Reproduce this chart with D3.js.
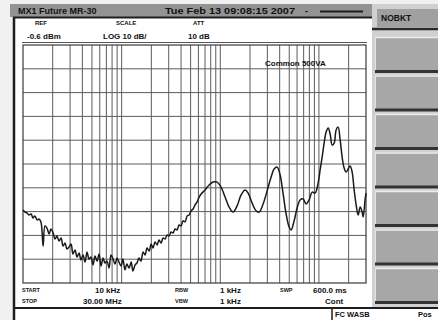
<!DOCTYPE html>
<html>
<head>
<meta charset="utf-8">
<script src="https://cdn.jsdelivr.net/npm/d3@7"></script>
<style>
  html, body { margin: 0; padding: 0; background: #f1f1f1; }
  svg { display: block; }
  text { font-family: "Liberation Sans", Arial, sans-serif; font-weight: bold; fill: #111; }
</style>
</head>
<body>
<svg id="chart" width="438" height="320"></svg>
<script>
// Sweep settings (frequency axis: 10 kHz .. 30 MHz, log; level axis: ref -0.6 dBm, 10 dB/div)
const freqStartHz = 10e3;
const freqStopHz = 30e6;
const refLevelDbm = -0.6;
const dbPerDiv = 10;
const levelDivisions = 10;

// Measured trace: frequency in kHz
const traceFreqKHz = [
  10.0, 10.5, 11.0, 11.5, 12.1, 12.6, 13.2, 13.9, 14.5, 15.2,
  16.0, 16.7, 17.5, 18.4, 19.2, 20.2, 21.1, 22.1, 23.2, 24.3,
  25.5, 26.7, 27.9, 29.3, 30.7, 32.1, 33.7, 35.3, 37.0, 38.7,
  40.6, 42.5, 44.6, 46.7, 48.9, 51.3, 53.7, 56.3, 59.0, 61.8,
  64.8, 67.8, 71.1, 74.5, 78.0, 81.8, 85.7, 89.8, 94.1, 98.6,
  103, 108, 113, 119, 125, 130, 137, 143, 150, 157,
  165, 173, 181, 190, 199, 208, 218, 229, 239, 251,
  263, 276, 289, 302, 317, 332, 348, 365, 382, 400,
  419, 440, 461, 483, 506, 530, 555, 582, 610, 639,
  701, 770, 845, 928, 1019, 1119, 1228, 1349, 1481, 1626,
  1785, 1914, 2102, 2307, 2475, 2717, 2983, 3275, 3512, 3769,
  4042, 4335, 4649, 4986, 5225, 5603, 6010, 6446, 6915, 7416,
  7954, 8531, 9151, 9815, 10285, 10777, 11290, 11830, 12400, 12990,
  13610, 14270, 14940, 15660, 16410, 17190, 18010, 18880, 19780, 20730,
  21720, 22750, 23840, 24980, 26180, 27430, 28070, 29420, 30000
];

// Measured trace: level in dBm
const traceLevelDbm = [
  -69.9, -70.8, -71.2, -72.0, -71.6, -73.3, -72.4, -74.1, -73.7, -75.0,
  -85.1, -76.6, -77.5, -80.0, -77.9, -79.6, -82.1, -80.9, -83.0, -81.7,
  -85.1, -83.8, -86.3, -85.5, -84.2, -88.4, -86.7, -89.7, -88.0, -90.9,
  -88.8, -91.8, -87.6, -90.5, -89.7, -93.0, -89.3, -91.4, -88.4, -93.5,
  -90.1, -92.2, -91.4, -94.3, -88.8, -90.5, -92.6, -90.1, -91.8, -93.5,
  -90.5, -95.1, -92.6, -94.3, -91.8, -95.6, -93.0, -92.2, -90.1, -91.4,
  -87.6, -88.8, -85.9, -87.2, -84.2, -85.9, -83.4, -84.6, -82.5, -83.8,
  -81.7, -82.1, -80.4, -80.9, -79.2, -79.6, -77.9, -78.3, -76.2, -76.6,
  -74.5, -74.9, -72.4, -72.0, -70.3, -69.5, -67.8, -66.5, -64.5, -63.2,
  -61.5, -59.4, -58.2, -58.2, -60.3, -64.5, -68.7, -70.8, -68.2, -63.6,
  -61.5, -62.8, -67.0, -70.3, -70.8, -67.4, -61.9, -56.1, -52.7, -51.9,
  -55.2, -63.2, -71.6, -77.1, -78.3, -74.5, -69.1, -65.7, -65.3, -67.4,
  -65.7, -62.4, -62.8, -58.6, -53.1, -47.7, -41.8, -37.2, -35.5, -38.0,
  -42.6, -41.8, -36.3, -35.1, -40.5, -47.7, -52.3, -54.0, -52.7, -51.4,
  -54.0, -61.5, -67.8, -72.0, -68.7, -70.8, -72.9, -65.3, -62.8
];

// Screen annotations
const titleText = "MX1 Future MR-30";
const dateText = "Tue Feb 13 09:08:15 2007";
const headerLabels = ["REF", "SCALE", "ATT"];
const headerValues = ["-0.6 dBm", "LOG 10 dB/", "10 dB"];
const footerRow1 = ["START", "10 kHz", "RBW", "1 kHz", "SWP", "600.0 ms"];
const footerRow2 = ["STOP", "30.00 MHz", "VBW", "1 kHz", "", "Cont"];
const traceLabel = "Common 500VA";
const menuTitle = "NOBKT";
const menuButtons = 7;
const statusLeft = "FC WASB";
const statusRight = "Pos";

const svg = d3.select("#chart");

// Plot geometry
const plot = { left: 23, right: 366, top: 45, bottom: 283 };

const x = d3.scaleLog()
  .domain([freqStartHz, freqStopHz])
  .range([plot.left, plot.right]);

const y = d3.scaleLinear()
  .domain([refLevelDbm - dbPerDiv * levelDivisions, refLevelDbm])
  .range([plot.bottom, plot.top]);

// ---- instrument frame ----
svg.append("rect").attr("x", 0).attr("y", 0).attr("width", 438).attr("height", 320).attr("fill", "#f1f1f1");
svg.append("rect").attr("x", 15).attr("y", 18).attr("width", 357).attr("height", 290).attr("fill", "#ffffff");
svg.append("rect").attr("x", 15).attr("y", 309).attr("width", 423).attr("height", 11).attr("fill", "#ffffff");

// title bar
svg.append("rect").attr("x", 10).attr("y", 4).attr("width", 362).attr("height", 13).attr("fill", "#939393");
svg.append("line").attr("x1", 13).attr("x2", 372).attr("y1", 17.5).attr("y2", 17.5)
  .attr("stroke", "#1e1e1e").attr("stroke-width", 2);
svg.append("text").attr("x", 18).attr("y", 14).attr("font-size", 9).text(titleText);
svg.append("text").attr("x", 165).attr("y", 14).attr("font-size", 9)
  .attr("textLength", 130).attr("lengthAdjust", "spacingAndGlyphs").text(dateText);
svg.append("text").attr("x", 305).attr("y", 14).attr("font-size", 9).text("-");
svg.append("line").attr("x1", 320).attr("x2", 363).attr("y1", 11.5).attr("y2", 11.5)
  .attr("stroke", "#1e1e1e").attr("stroke-width", 2);

// left frame line and bottom rule
svg.append("line").attr("x1", 14).attr("x2", 14).attr("y1", 17).attr("y2", 320)
  .attr("stroke", "#1e1e1e").attr("stroke-width", 2.5);
svg.append("line").attr("x1", 13).attr("x2", 438).attr("y1", 308).attr("y2", 308)
  .attr("stroke", "#1e1e1e").attr("stroke-width", 2);
svg.append("line").attr("x1", 332).attr("x2", 332).attr("y1", 308).attr("y2", 320)
  .attr("stroke", "#1e1e1e").attr("stroke-width", 1.5);
svg.append("text").attr("x", 335).attr("y", 317).attr("font-size", 7.5).text(statusLeft);
svg.append("text").attr("x", 418).attr("y", 317).attr("font-size", 7.5).text(statusRight);

// soft-key menu panel
svg.append("rect").attr("x", 372).attr("y", 4).attr("width", 66).attr("height", 303).attr("fill", "#d0d0d0");
svg.append("rect").attr("x", 377).attr("y", 9).attr("width", 61).attr("height", 18).attr("fill", "#a0a0a0");
svg.append("text").attr("x", 381).attr("y", 21).attr("font-size", 8.5).text(menuTitle);
svg.append("line").attr("x1", 372).attr("x2", 438).attr("y1", 29).attr("y2", 29)
  .attr("stroke", "#2a2a2a").attr("stroke-width", 2.5);

const buttons = svg.append("g").selectAll("g")
  .data(d3.range(menuButtons))
  .join("g")
  .attr("transform", i => `translate(375, ${37 + i * 38.5})`);
buttons.append("rect").attr("width", 63).attr("height", 34).attr("fill", "#a7a7a7");
buttons.append("line").attr("x1", 0).attr("x2", 63).attr("y1", 0.5).attr("y2", 0.5)
  .attr("stroke", "#ececec").attr("stroke-width", 1.5);
buttons.append("line").attr("x1", 0.5).attr("x2", 0.5).attr("y1", 0).attr("y2", 34)
  .attr("stroke", "#e4e4e4").attr("stroke-width", 1);
buttons.append("rect").attr("y", 33).attr("width", 63).attr("height", 3).attr("fill", "#333");

// ---- header (REF / SCALE / ATT) ----
const headerX = [35, 116, 193];
const headerValX = [27, 103, 188];
svg.append("g").selectAll("text").data(headerLabels).join("text")
  .attr("x", (d, i) => headerX[i]).attr("y", 25).attr("font-size", 6).text(d => d);
svg.append("g").selectAll("text").data(headerValues).join("text")
  .attr("x", (d, i) => headerValX[i]).attr("y", 39).attr("font-size", 8).text(d => d);

// ---- graticule ----
const grid = svg.append("g");
const vTicks = x.ticks().filter(t => t > freqStartHz * 1.0001 && t < freqStopHz * 0.9999);
grid.selectAll(".v").data(vTicks).join("line")
  .attr("x1", d => x(d)).attr("x2", d => x(d))
  .attr("y1", plot.top).attr("y2", plot.bottom)
  .attr("stroke", "#5c5c5c").attr("stroke-width", 1);
const hTicks = d3.range(1, levelDivisions).map(i => refLevelDbm - i * dbPerDiv);
grid.selectAll(".h").data(hTicks).join("line")
  .attr("x1", plot.left).attr("x2", plot.right)
  .attr("y1", d => y(d)).attr("y2", d => y(d))
  .attr("stroke", "#5c5c5c").attr("stroke-width", 1);
grid.append("rect")
  .attr("x", plot.left).attr("y", plot.top)
  .attr("width", plot.right - plot.left).attr("height", plot.bottom - plot.top)
  .attr("fill", "none").attr("stroke", "#3a3a3a").attr("stroke-width", 1.2);
svg.append("line").attr("x1", plot.left - 1).attr("x2", plot.right + 1)
  .attr("y1", plot.top - 2.5).attr("y2", plot.top - 2.5)
  .attr("stroke", "#555").attr("stroke-width", 1);

// ---- trace ----
const points = traceFreqKHz.map((f, i) => [f * 1e3, traceLevelDbm[i]]);
const line = d3.line()
  .x(d => x(d[0]))
  .y(d => y(d[1]))
  .curve(d3.curveCatmullRom.alpha(0.5));
svg.append("path").datum(points)
  .attr("d", line)
  .attr("fill", "none")
  .attr("stroke", "#1a1a1a")
  .attr("stroke-width", 1.5)
  .attr("stroke-linejoin", "round");

svg.append("text").attr("x", 265).attr("y", 66).attr("font-size", 8).text(traceLabel);

// ---- footer (START/STOP, RBW/VBW, SWP) ----
const footLabelX = [22, null, 175, null, 280, null];
function footerRow(vals, yy, valXs) {
  vals.forEach((v, i) => {
    if (!v) return;
    if (footLabelX[i] !== null) {
      svg.append("text").attr("x", footLabelX[i]).attr("y", yy - 0.5).attr("font-size", 5.5).text(v);
    } else {
      svg.append("text").attr("x", valXs[i]).attr("y", yy + 1).attr("font-size", 8).text(v);
    }
  });
}
footerRow(footerRow1, 292, [null, 95, null, 220, null, 313]);
footerRow(footerRow2, 303, [null, 83, null, 220, null, 325]);
</script>
</body>
</html>
